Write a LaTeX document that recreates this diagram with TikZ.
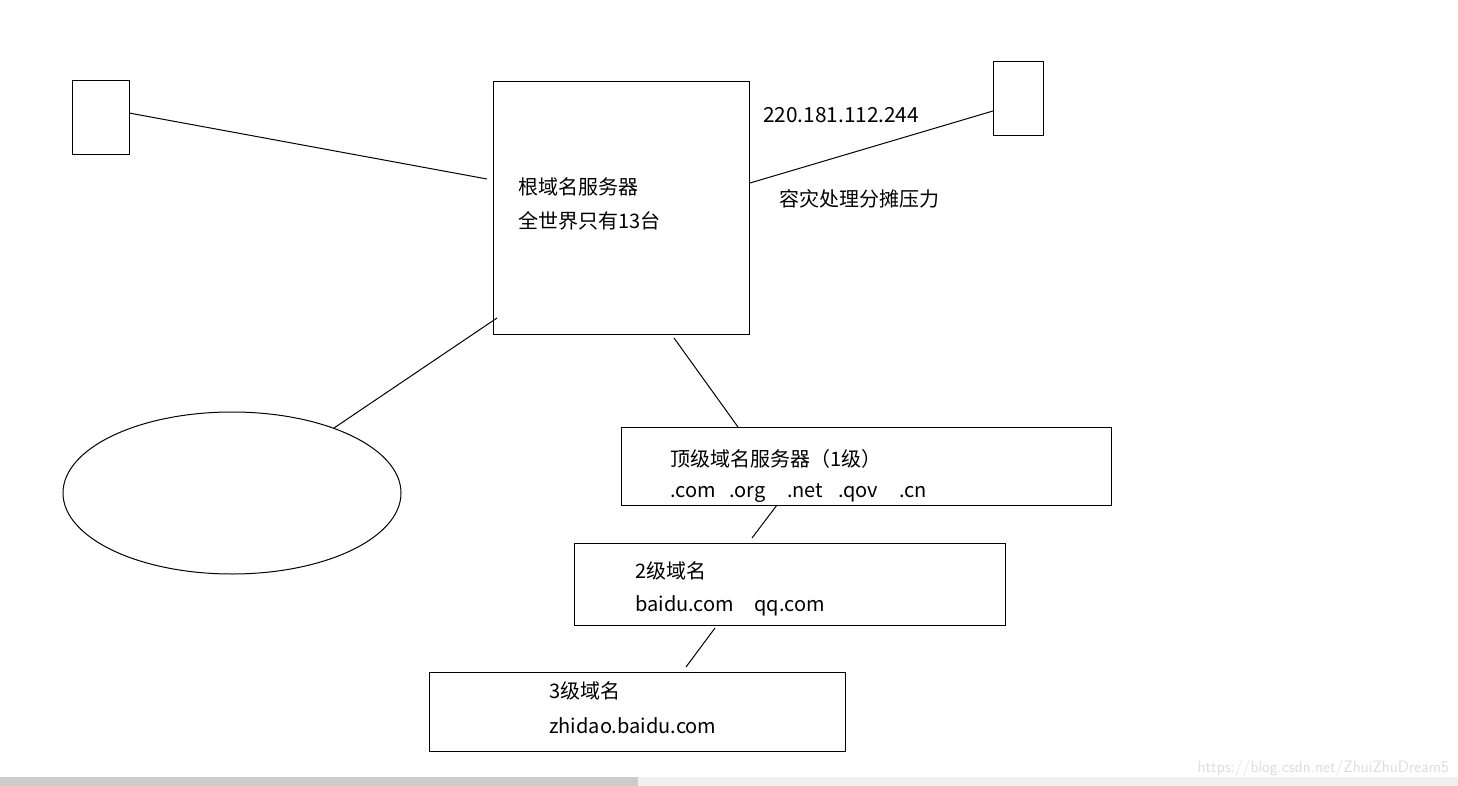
\documentclass[tikz,border=0pt]{standalone}
\usepackage{fontspec}
\setmainfont{Noto Sans CJK SC}
\usetikzlibrary{shapes.geometric}
\begin{document}
\begin{tikzpicture}[x=1pt,y=-1pt,
  box/.style={draw=black,line width=1pt},
  lbl/.style={anchor=west,inner sep=0pt,font=\fontsize{20}{23}\selectfont},
  conn/.style={draw=black,line width=1pt}]
\useasboundingbox (0,0) rectangle (1458,786);
\fill[white] (0,0) rectangle (1458,786);
% boxes
\draw[box] (72,81) rectangle (129,155);
\coordinate (la) at (129,113);
\coordinate (lb) at (487,179);
\draw[box] (493,82) rectangle (749,334);
\draw[box] (993,62) rectangle (1043,136);
\coordinate (ra) at (750,183);
\coordinate (rb) at (993,111);
\node[ellipse,draw=black,line width=1pt,minimum width=338pt,minimum height=162pt,inner sep=0pt] (ell) at (232,493) {};
\coordinate (ea) at (497,318);
\coordinate (eb) at (334,428);
\draw[box] (621,427) rectangle (1111,505);
\coordinate (ta) at (674,338);
\coordinate (tb) at (738,427);
\draw[box] (574,543) rectangle (1005,625);
\coordinate (sa) at (777,505);
\coordinate (sb) at (752,538);
\draw[box] (429,672) rectangle (845,751);
\coordinate (ua) at (715,628);
\coordinate (ub) at (686,667);
% connectors
\draw[conn] (la) -- (lb);
\draw[conn] (ra) -- (rb);
\draw[conn] (ea) -- (eb);
\draw[conn] (ta) -- (tb);
\draw[conn] (sa) -- (sb);
\draw[conn] (ua) -- (ub);
% texts
\node[lbl] (t1) at (518,187) {根域名服务器};
\node[lbl] (t2) at (518,221) {全世界只有13台};
\node[lbl,font=\fontsize{20.8}{23}\selectfont] (t3) at (763,115) {220.181.112.244};
\node[lbl] (t4) at (779,199) {容灾处理分摊压力};
\node[lbl] (t5) at (670,459) {顶级域名服务器（1级）};
\node[lbl] (t6) at (670,493) {\makebox[59pt][l]{.com}\makebox[58pt][l]{.org}\makebox[51pt][l]{.net}\makebox[61pt][l]{.qov}.cn};
\node[lbl] (t7) at (635,571) {2级域名};
\node[lbl] (t8) at (635,606) {\makebox[119pt][l]{baidu.com}qq.com};
\node[lbl] (t9) at (549,691) {3级域名};
\node[lbl] (t10) at (549,726) {zhidao.baidu.com};
% scrollbar
\fill[black!20] (0,777) rectangle (638,786);
\fill[black!6] (638,777) rectangle (1458,786);
\node[anchor=east,inner sep=0pt,text=black!13,font=\fontsize{16.5}{18}\selectfont\sffamily] (wm) at (1449,768) {https://blog.csdn.net/ZhuiZhuDream5};
\end{tikzpicture}
\end{document}
